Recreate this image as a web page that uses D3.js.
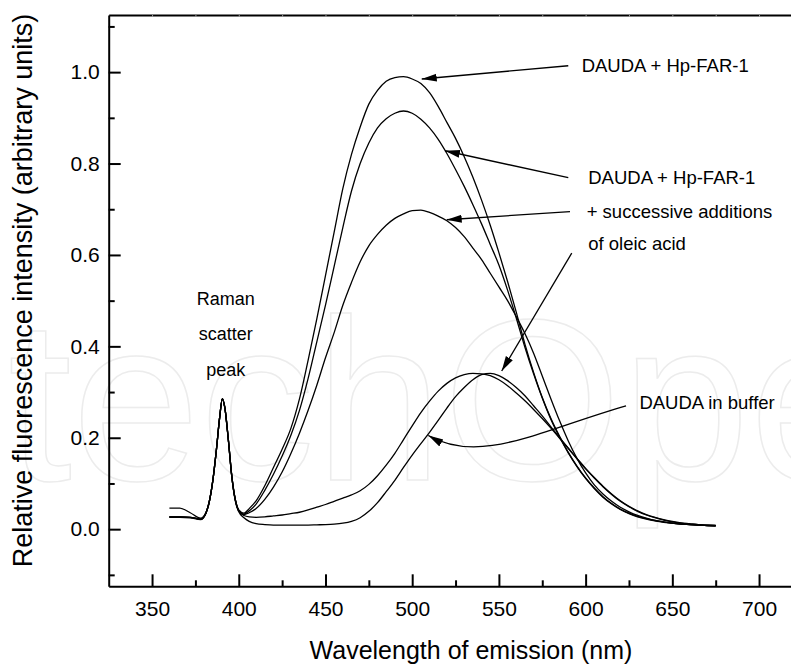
<!DOCTYPE html>
<html>
<head>
<meta charset="utf-8">
<script src="https://cdn.jsdelivr.net/npm/d3@7"></script>
<style>
body{margin:0;background:#fff;}
svg{display:block;font-family:"Liberation Sans",Arial,sans-serif;}
</style>
</head>
<body>
<div class="chart"></div>
<script>
// emission wavelengths (nm), shared by every trace
var wavelength = [360,366,372,378,381,383,385,387,389,390.5,392,394,396,398,400,403,406,410,
  415,420,425,430,435,440,445,450,455,460,465,470,475,480,485,490,495,500,505,510,515,520,525,530,
  535,540,545,550,555,560,565,570,575,580,585,590,595,600,605,610,615,620,625,630,635,640,645,650,
  655,660,665,670,675];

// DAUDA + Hp-FAR-1
var traceFar = [0.027,0.027,0.026,0.022,0.035,0.06,0.105,0.17,0.245,0.285,0.265,0.195,0.115,0.065,0.042,0.035,0.045,0.062,
  0.095,0.135,0.175,0.22,0.285,0.37,0.46,0.555,0.65,0.745,0.82,0.88,0.93,0.96,0.98,0.988,0.99,0.985,0.975,0.955,0.925,0.89,0.855,0.815,
  0.77,0.72,0.665,0.605,0.542,0.475,0.405,0.343,0.288,0.242,0.203,0.168,0.138,0.112,0.09,0.071,0.056,0.044,0.035,0.028,0.023,0.019,0.016,0.013,
  0.011,0.01,0.009,0.008,0.0075];
// successive additions of oleic acid
var traceOleic1 = [0.027,0.027,0.026,0.022,0.035,0.06,0.105,0.17,0.245,0.285,0.265,0.195,0.115,0.065,0.041,0.033,0.04,0.055,
  0.085,0.12,0.16,0.205,0.26,0.33,0.41,0.49,0.575,0.66,0.74,0.8,0.845,0.878,0.898,0.91,0.915,0.91,0.897,0.878,0.853,0.822,0.787,0.75,
  0.71,0.668,0.623,0.578,0.523,0.462,0.398,0.34,0.287,0.24,0.201,0.167,0.137,0.111,0.089,0.07,0.055,0.043,0.034,0.027,0.022,0.018,0.015,0.013,
  0.011,0.01,0.009,0.008,0.0075];
var traceOleic2 = [0.046,0.046,0.036,0.024,0.036,0.061,0.106,0.17,0.245,0.285,0.265,0.195,0.115,0.064,0.04,0.032,0.036,0.045,
  0.065,0.092,0.125,0.165,0.21,0.26,0.315,0.375,0.43,0.49,0.54,0.585,0.62,0.645,0.665,0.68,0.69,0.697,0.698,0.693,0.685,0.675,0.66,0.64,
  0.615,0.59,0.56,0.53,0.5,0.465,0.428,0.385,0.335,0.285,0.237,0.193,0.155,0.123,0.097,0.077,0.061,0.048,0.038,0.03,0.024,0.019,0.016,0.013,
  0.011,0.01,0.009,0.008,0.0075];
var traceOleic3 = [0.027,0.027,0.026,0.022,0.035,0.06,0.105,0.17,0.245,0.285,0.265,0.195,0.115,0.064,0.04,0.03,0.027,0.026,
  0.027,0.029,0.031,0.034,0.037,0.042,0.048,0.054,0.061,0.068,0.075,0.084,0.098,0.117,0.14,0.166,0.196,0.226,0.255,0.28,0.302,0.319,0.331,0.338,
  0.341,0.34,0.336,0.327,0.314,0.298,0.281,0.262,0.242,0.221,0.199,0.177,0.155,0.133,0.113,0.094,0.077,0.062,0.05,0.04,0.032,0.026,0.021,0.017,
  0.014,0.012,0.01,0.009,0.0085];
// DAUDA in buffer
var traceBuffer = [0.026,0.026,0.025,0.021,0.034,0.06,0.105,0.17,0.245,0.285,0.265,0.195,0.115,0.062,0.038,0.025,0.017,0.012,
  0.01,0.009,0.009,0.009,0.009,0.009,0.0095,0.01,0.011,0.013,0.017,0.025,0.039,0.058,0.082,0.107,0.135,0.162,0.187,0.212,0.238,0.265,0.29,0.31,
  0.327,0.338,0.341,0.336,0.325,0.31,0.292,0.27,0.248,0.224,0.2,0.177,0.154,0.132,0.112,0.093,0.076,0.061,0.049,0.039,0.031,0.025,0.02,0.016,
  0.013,0.011,0.0095,0.0085,0.008];

var xMajor = [350,400,450,500,550,600,650,700];
var xMinor = [375,425,475,525,575,625,675,725];
var xTop = [350,375,400,425,450,475,500,525,550,575,600,625,650,675,700,725];
var yMajor = [0,0.2,0.4,0.6,0.8,1.0];
var yMinor = [-0.1,0.1,0.3,0.5,0.7,0.9,1.1];

// annotations, in data units
var labelText = ["DAUDA + Hp-FAR-1","DAUDA + Hp-FAR-1","+ successive additions","of oleic acid","DAUDA in buffer"];
var labelAt = [[597.7,1.001],[601.5,0.755],[600.6,0.680],[601.5,0.611],[631.0,0.263]];
var ramanText = ["Raman","scatter","peak"];
var ramanAt = [[392.5,0.4906],[392.5,0.413],[392.5,0.335]];
var arrowFrom = [[590,1.014],[590,0.769],[591,0.695],[592,0.604]];
var arrowTo = [[505.5,0.985],[518.9,0.828],[519.9,0.677],[551.6,0.346]];
var bufferArrow = [[623.3,0.270],[573.7,0.216],[539.1,0.14],[509.3,0.205]];

var W = 791, H = 666;
var x = d3.scaleLinear().domain([325,725]).range([108.7,802.4]);
var y = d3.scaleLinear().domain([-0.125,1.125]).range([586.3,15]);

var svg = d3.select(".chart").append("svg").attr("width",W).attr("height",H);

svg.append("defs").append("marker")
    .attr("id","head")
    .attr("markerUnits","userSpaceOnUse")
    .attr("markerWidth",16).attr("markerHeight",9)
    .attr("refX",15).attr("refY",4)
    .attr("orient","auto")
  .append("path")
    .attr("d","M0,0L15,4L0,8Z")
    .attr("fill","#000");

//faint watermark behind the plot
svg.append("text")
    .attr("x",8).attr("y",480)
    .attr("font-size",230)
    .attr("fill","none")
    .attr("stroke","#ececec")
    .attr("stroke-width",1.5)
    .text("techOpen");

function styleAxis(g){
  g.selectAll(".domain").attr("stroke-width",2);
  g.selectAll(".tick line").attr("stroke-width",2);
  g.selectAll(".tick text").attr("font-size",21).attr("fill","#000")
      .attr("font-family","Liberation Sans, Arial, sans-serif");
}

//bottom axis
var gx = svg.append("g")
    .attr("transform","translate(0,"+y(-0.125)+")")
    .call(d3.axisBottom(x).tickValues(xMajor).tickSize(-12).tickSizeOuter(0).tickPadding(15).tickFormat(d3.format("d")));
styleAxis(gx);
var gxm = svg.append("g")
    .attr("transform","translate(0,"+y(-0.125)+")")
    .call(d3.axisBottom(x).tickValues(xMinor).tickSize(-6).tickSizeOuter(0).tickFormat(""));
gxm.select(".domain").remove();
styleAxis(gxm);

//left axis
var gy = svg.append("g")
    .attr("transform","translate("+x(325)+",0)")
    .call(d3.axisLeft(y).tickValues(yMajor).tickSize(-12).tickSizeOuter(0).tickPadding(9).tickFormat(d3.format(".1f")));
styleAxis(gy);
var gym = svg.append("g")
    .attr("transform","translate("+x(325)+",0)")
    .call(d3.axisLeft(y).tickValues(yMinor).tickSize(-6).tickSizeOuter(0).tickFormat(""));
gym.select(".domain").remove();
styleAxis(gym);

//top frame with its tiny ticks
var gt = svg.append("g")
    .attr("transform","translate(0,"+y(1.125)+")")
    .call(d3.axisTop(x).tickValues(xTop).tickSize(-2).tickSizeOuter(0).tickFormat(""));
gt.select(".domain").attr("stroke-width",2);
gt.selectAll(".tick line").attr("stroke","#999");

//axis titles
svg.append("text")
    .attr("x",471).attr("y",659)
    .attr("text-anchor","middle")
    .attr("font-size",25)
    .text("Wavelength of emission (nm)");
svg.append("text")
    .attr("transform","translate(31.5,290.5) rotate(-90)")
    .attr("text-anchor","middle")
    .attr("font-size",27)
    .text("Relative fluorescence intensity (arbitrary units)");

//spectra
var line = d3.line()
    .x(function(d,i){ return x(wavelength[i]); })
    .y(function(d){ return y(d); })
    .curve(d3.curveMonotoneX);

svg.append("g")
    .selectAll("path")
    .data([traceFar,traceOleic1,traceOleic2,traceOleic3,traceBuffer])
    .enter()
    .append("path")
        .attr("d",line)
        .attr("fill","none")
        .attr("stroke","#000")
        .attr("stroke-width",1.3);

//straight arrows
svg.append("g")
    .selectAll("line")
    .data(d3.range(arrowFrom.length))
    .enter()
    .append("line")
        .attr("x1",function(i){ return x(arrowFrom[i][0]); })
        .attr("y1",function(i){ return y(arrowFrom[i][1]); })
        .attr("x2",function(i){ return x(arrowTo[i][0]); })
        .attr("y2",function(i){ return y(arrowTo[i][1]); })
        .attr("stroke","#000")
        .attr("stroke-width",1.3)
        .attr("marker-end","url(#head)");

//curved arrow to the buffer trace
var bp = d3.path();
bp.moveTo(x(bufferArrow[0][0]),y(bufferArrow[0][1]));
bp.bezierCurveTo(x(bufferArrow[1][0]),y(bufferArrow[1][1]),
                 x(bufferArrow[2][0]),y(bufferArrow[2][1]),
                 x(bufferArrow[3][0]),y(bufferArrow[3][1]));
svg.append("path")
    .attr("d",bp.toString())
    .attr("fill","none")
    .attr("stroke","#000")
    .attr("stroke-width",1.3)
    .attr("marker-end","url(#head)");

//labels
svg.append("g")
    .selectAll("text")
    .data(labelText)
    .enter()
    .append("text")
        .attr("x",function(d,i){ return x(labelAt[i][0]); })
        .attr("y",function(d,i){ return y(labelAt[i][1]); })
        .attr("font-size",18.5)
        .text(function(d){ return d; });

svg.append("g")
    .selectAll("text")
    .data(ramanText)
    .enter()
    .append("text")
        .attr("x",function(d,i){ return x(ramanAt[i][0]); })
        .attr("y",function(d,i){ return y(ramanAt[i][1]); })
        .attr("text-anchor","middle")
        .attr("font-size",18)
        .text(function(d){ return d; });
</script>
</body>
</html>
